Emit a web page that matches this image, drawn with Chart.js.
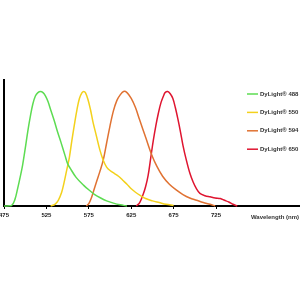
<!DOCTYPE html>
<html>
<head>
<meta charset="utf-8">
<script src="https://cdn.jsdelivr.net/npm/chart.js@4"></script>
<style>
  html, body { margin: 0; padding: 0; background: #fff; }
  #wrap { width: 300px; height: 300px; }
</style>
</head>
<body>
<div id="wrap"><canvas id="spectra" width="300" height="300"></canvas></div>
<script>
// emission spectra, normalised to 100 at the peak
const seriesLabels = ["DyLight® 488", "DyLight® 550", "DyLight® 594", "DyLight® 650"];
const seriesColors = ["#5ddc52", "#f3d11c", "#e07232", "#df1530"];
const xTicks = [475, 525, 575, 625, 675, 725];

const wl488 = [475, 484, 488, 491, 494, 497, 500, 503, 506, 509, 512, 515, 518, 521, 524, 527, 530, 534, 538, 542, 547, 550, 553, 560, 569, 576, 582, 589, 596, 604, 612, 620];
const em488 = [0, 0.5, 6, 15, 25, 36, 50, 65, 78, 89, 96, 99, 100, 99, 96, 91, 84, 75, 65, 56, 44, 37, 33, 25, 18, 13.5, 10, 7, 4.5, 2.5, 1, 0];

const wl550 = [530, 535, 539, 543, 546, 548, 550, 552, 555, 558, 561, 564, 567, 569, 571, 574, 577, 580, 584, 588, 592, 596, 600, 605, 610, 615, 620, 625, 630, 636, 642, 650, 658, 666, 675];
const em550 = [0, 1.5, 5, 12, 21, 28, 35, 42, 57, 71, 84, 94, 99, 100, 99, 93, 84, 73, 61, 49, 40, 34, 31, 28.5, 26, 22.5, 19, 15, 12, 9, 6.5, 4.5, 3, 1.5, 0.5];

const wl594 = [572, 575, 578, 581, 584, 588, 592, 596, 600, 604, 608, 612, 616, 620, 625, 630, 635, 642, 649, 655, 662, 670, 678, 686, 694, 702, 710, 718, 724];
const em594 = [0, 2, 7, 14, 21, 30, 40, 55, 70, 83, 92, 97, 100, 99, 94, 86, 75, 60, 45, 35, 26, 19, 14, 10, 7, 5, 3, 1.5, 0];

const wl650 = [631, 635, 639, 642, 645, 648, 651, 654, 657, 660, 663, 665, 668, 671, 674, 677, 680, 683, 686, 690, 694, 698, 702, 706, 712, 718, 724, 730, 735, 740, 745, 750];
const em650 = [0, 3, 10, 17, 27, 42, 57, 70, 81, 90, 96, 99, 100, 98, 94, 86, 76, 65, 53, 40, 29, 21, 15, 11, 9, 8, 7, 6.5, 5, 3.5, 1.5, 0];

const wavelengths = [wl488, wl550, wl594, wl650];
const emissions = [em488, em550, em594, em650];

const datasets = seriesLabels.map((label, i) => ({
  label,
  data: wavelengths[i].map((w, j) => ({ x: w, y: emissions[i][j] })),
  borderColor: seriesColors[i],
  backgroundColor: seriesColors[i],
  borderWidth: 1.5,
  pointRadius: 0,
  tension: 0.35,
  fill: false,
  clip: false,
}));

const FONT = "'Liberation Sans', Arial, sans-serif";

// legend inside the plot, plus the axis caption on the tick row
const overlay = {
  id: "overlay",
  afterDatasetsDraw(chart) {
    const ctx = chart.ctx;
    ctx.save();
    ctx.font = "bold 6px " + FONT;
    ctx.textBaseline = "middle";
    ctx.fillStyle = "#333";
    chart.data.datasets.forEach((ds, i) => {
      const y = 94 + i * 18.4;
      ctx.strokeStyle = ds.borderColor;
      ctx.lineWidth = 1.5;
      ctx.beginPath();
      ctx.moveTo(247, y);
      ctx.lineTo(258, y);
      ctx.stroke();
      ctx.textAlign = "left";
      ctx.fillText(ds.label, 260, y);
    });
    ctx.textAlign = "right";
    ctx.fillText("Wavelength (nm)", 299, 217);
    ctx.restore();
  },
};

new Chart(document.getElementById("spectra"), {
  type: "line",
  data: { datasets },
  options: {
    responsive: false,
    animation: false,
    layout: { padding: { left: 4, top: 80, right: 0, bottom: 0 } },
    plugins: { legend: { display: false }, tooltip: { enabled: false } },
    scales: {
      x: {
        type: "linear",
        min: 475,
        max: 824,
        afterBuildTicks: (scale) => {
          scale.ticks = xTicks.map((v) => ({ value: v }));
        },
        afterFit: (scale) => {
          scale.height = 94;
          scale.paddingLeft = 0;
          scale.paddingRight = 0;
        },
        ticks: {
          autoSkip: false,
          maxRotation: 0,
          padding: 3,
          color: "#222",
          font: { family: FONT, size: 6, weight: "bold" },
        },
        grid: {
          drawOnChartArea: false,
          tickLength: 3,
          tickColor: "#000",
          tickWidth: 1,
        },
        border: { color: "#000", width: 2 },
      },
      y: {
        min: 0,
        max: 110,
        afterFit: (scale) => {
          scale.width = 0;
        },
        ticks: { display: false },
        grid: { display: false, drawTicks: false },
        border: { color: "#000", width: 2 },
      },
    },
  },
  plugins: [overlay],
});
</script>
</body>
</html>
